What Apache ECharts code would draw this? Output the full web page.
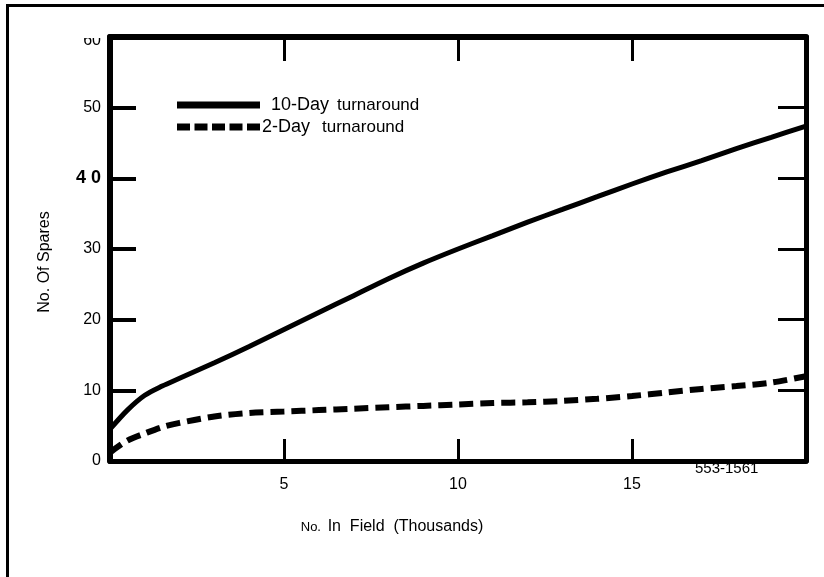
<!DOCTYPE html>
<html>
<head>
<meta charset="utf-8">
<script src="https://cdn.jsdelivr.net/npm/echarts@6/dist/echarts.min.js"></script>
<style>
html,body{margin:0;padding:0;background:#fff;overflow:hidden;}
#wrap{position:relative;width:824px;height:577px;}
#chart{position:absolute;left:0;top:0;width:824px;height:577px;}
#frame{position:absolute;left:6px;top:4px;width:830px;height:590px;border-left:3px solid #000;border-top:3px solid #000;pointer-events:none;}
</style>
</head>
<body>
<div id="wrap"><div id="chart"></div><div id="frame"></div></div>
<script>
// Data
const fieldThousands = [0, 0.5, 1, 1.5, 2, 3, 4, 5, 6, 7, 8, 9, 10, 11, 12, 13, 14, 15, 16, 17, 18, 19, 20];
const spares10Day   = [4.5, 7.2, 9.3, 10.6, 11.7, 13.9, 16.2, 18.6, 21.0, 23.4, 25.8, 28.0, 30.0, 31.9, 33.8, 35.6, 37.4, 39.2, 40.9, 42.5, 44.2, 45.8, 47.4];
const spares2Day    = [1.2, 2.9, 3.9, 4.8, 5.4, 6.3, 6.8, 7.0, 7.2, 7.4, 7.6, 7.8, 8.0, 8.2, 8.3, 8.5, 8.8, 9.2, 9.7, 10.2, 10.6, 11.1, 12.0];
const xTickLabels = {5: '5', 10: '10', 15: '15'};
const yTickLabels = {0: '0', 10: '10', 20: '20', 30: '30', 40: '{b|4 0}', 50: '50', 60: '{c|60}'};
const seriesNames = ['10-Day turnaround', '2-Day turnaround'];

const FONT = '"Liberation Sans", Arial, sans-serif';
const pairs = (xs, ys) => xs.map((x, i) => [x, ys[i]]);

// legend icons (83 x 7): a solid bar and five dashes
const solidIcon = 'path://M0,0H83V7H0Z';
let dashPath = 'path://';
for (let i = 0; i < 5; i++) { const x0 = i * 17.5; dashPath += 'M' + x0 + ',0H' + (x0 + 13) + 'V7H' + x0 + 'Z'; }

const chart = echarts.init(document.getElementById('chart'), null, {renderer: 'canvas'});
const axisLine = w => ({show: true, onZero: false, lineStyle: {color: '#000', width: w}});
chart.setOption({
  animation: false,
  backgroundColor: '#fff',
  grid: {left: 110, right: 18, top: 37, bottom: 116, containLabel: false},
  legend: {
    orient: 'vertical', left: 172, top: 91,
    itemWidth: 83, itemHeight: 7, itemGap: 4,
    data: [{name: seriesNames[0], icon: solidIcon}, {name: seriesNames[1], icon: dashPath}],
    itemStyle: {color: '#000'},
    textStyle: {
      color: '#000', fontFamily: FONT, fontSize: 16,
      rich: {
        a: {fontFamily: FONT, fontSize: 18, color: '#000', padding: [0, 8, 0, 6]},
        c: {fontFamily: FONT, fontSize: 18, color: '#000', padding: [0, 12, 0, -3]},
        t: {fontFamily: FONT, fontSize: 17, color: '#000'}
      }
    },
    formatter: n => n.startsWith('10') ? '{a|10-Day}{t|turnaround}' : '{c|2-Day}{t|turnaround}'
  },
  xAxis: [
    {
      type: 'value', position: 'bottom', min: 0, max: 20, interval: 5,
      axisLine: axisLine(5),
      axisTick: {show: true, inside: true, length: 22, lineStyle: {color: '#000', width: 3}},
      axisLabel: {color: '#000', fontFamily: FONT, fontSize: 16, margin: 16,
        formatter: v => xTickLabels[v] || ''},
      splitLine: {show: false},
      name: '{s|No.}  {n|In  Field  (Thousands)}',
      nameLocation: 'middle', nameGap: 58,
      nameTextStyle: {padding: [0, 132, 0, 0],
        rich: {s: {fontFamily: FONT, fontSize: 13, color: '#000'}, n: {fontFamily: FONT, fontSize: 16, color: '#000'}}}
    },
    {
      type: 'value', position: 'top', min: 0, max: 20, interval: 5, z: 5,
      axisLine: axisLine(6),
      axisTick: {show: true, inside: true, length: 24, lineStyle: {color: '#000', width: 3}},
      axisLabel: {show: false}, splitLine: {show: false}
    }
  ],
  yAxis: [
    {
      type: 'value', position: 'left', min: 0, max: 60, interval: 10,
      axisLine: axisLine(6),
      axisTick: {show: true, inside: true, length: 26, lineStyle: {color: '#000', width: 4}},
      axisLabel: {color: '#000', fontFamily: FONT, fontSize: 16, margin: 9,
        formatter: v => yTickLabels[v] || '',
        rich: {
          b: {fontFamily: FONT, fontSize: 18, fontWeight: 'bold', color: '#000'},
          c: {fontFamily: FONT, fontSize: 16, color: '#000', padding: [8, 0, 0, 0]}
        }},
      splitLine: {show: false},
      name: 'No. Of Spares', nameLocation: 'middle', nameGap: 57,
      nameTextStyle: {color: '#000', fontFamily: FONT, fontSize: 16, padding: [0, 26, 0, 0]}
    },
    {
      type: 'value', position: 'right', min: 0, max: 60, interval: 10,
      axisLine: axisLine(5),
      axisTick: {show: true, inside: true, length: 28, lineStyle: {color: '#000', width: 3}},
      axisLabel: {show: false}, splitLine: {show: false}
    }
  ],
  graphic: [
    {
      // paper edge: the scan cuts off the top of the "60" label
      type: 'rect', left: 78, top: 20, z: 20, silent: true,
      shape: {width: 28, height: 18}, style: {fill: '#fff'}
    },
    {
      type: 'text', left: 695, top: 461, z: 10,
      style: {text: '553-1561', fill: '#000', font: '15px ' + FONT}
    }
  ],
  series: [
    {
      name: seriesNames[0], type: 'line', xAxisIndex: 0, yAxisIndex: 0,
      data: pairs(fieldThousands, spares10Day), smooth: 0.3, symbol: 'none',
      lineStyle: {color: '#000', width: 5, type: 'solid'},
      itemStyle: {color: '#000'}
    },
    {
      name: seriesNames[1], type: 'line', xAxisIndex: 0, yAxisIndex: 0,
      data: pairs(fieldThousands, spares2Day), smooth: 0.3, symbol: 'none',
      lineStyle: {color: '#000', width: 6, type: [14, 7], cap: 'butt'},
      itemStyle: {color: '#000'}
    }
  ]
});
</script>
</body>
</html>
